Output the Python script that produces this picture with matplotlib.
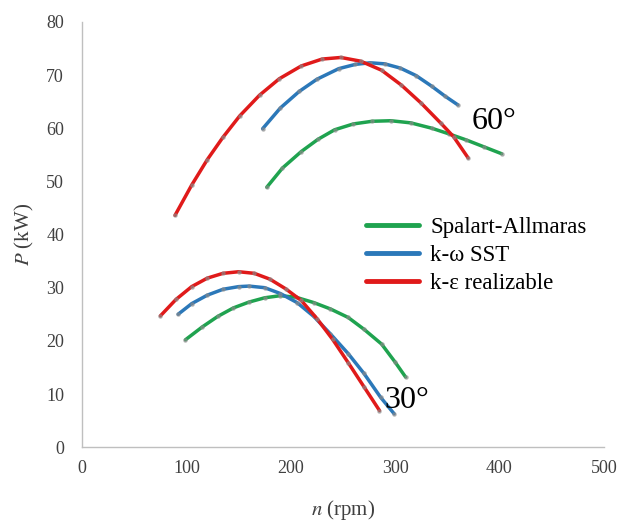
import matplotlib
matplotlib.use('Agg')
import matplotlib.pyplot as plt

plt.rcParams['font.family'] = ['Liberation Serif', 'DejaVu Serif']

# 60 degree curves
n60_sa = [177, 192, 210, 226, 242, 260, 278, 296, 315, 335, 352, 368, 385, 402]
p60_sa = [48.9, 52.5, 55.6, 57.9, 59.7, 60.8, 61.3, 61.4, 61.0, 60.0, 58.9, 57.8, 56.5, 55.2]
n60_sst = [173, 190, 208, 225, 246, 262, 276, 290, 305, 320, 335, 348, 360]
p60_sst = [59.9, 63.8, 66.9, 69.2, 71.2, 72.0, 72.3, 72.1, 71.3, 69.9, 67.9, 66.0, 64.4]
n60_ke = [89, 105, 120, 135, 151, 170, 189, 210, 230, 248, 267, 287, 306, 325, 344, 356, 370]
p60_ke = [43.6, 49.3, 54.1, 58.3, 62.3, 66.2, 69.3, 71.7, 73.0, 73.3, 72.6, 70.9, 68.1, 64.7, 60.9, 58.4, 54.4]

# 30 degree curves
n30_sa = [99, 115, 130, 145, 160, 175, 190, 205, 222, 238, 255, 270, 287, 300, 310]
p30_sa = [20.2, 22.6, 24.6, 26.2, 27.3, 28.1, 28.5, 28.2, 27.2, 26.0, 24.4, 22.2, 19.4, 16.0, 13.2]
n30_sst = [92, 105, 120, 135, 150, 160, 175, 190, 206, 222, 238, 255, 270, 286, 299]
p30_sst = [25.0, 27.0, 28.6, 29.7, 30.2, 30.3, 30.0, 28.9, 27.2, 24.6, 21.3, 17.6, 13.9, 9.4, 6.3]
n30_ke = [75, 90, 105, 120, 135, 150, 165, 180, 195, 210, 225, 240, 255, 270, 285]
p30_ke = [24.7, 27.8, 30.2, 31.8, 32.7, 33.0, 32.7, 31.6, 29.8, 27.6, 24.2, 20.3, 15.9, 11.4, 6.9]

labels = ['Spalart-Allmaras', 'k-ω SST', 'k-ε realizable']
colors = ['#1fa34f', '#2b78b9', '#e01a1a']

fig = plt.figure(figsize=(6.27, 5.2), dpi=100)
ax = fig.add_axes([0.131, 0.140, 0.832, 0.818])

series60 = [(n60_sa, p60_sa), (n60_sst, p60_sst), (n60_ke, p60_ke)]
series30 = [(n30_sa, p30_sa), (n30_sst, p30_sst), (n30_ke, p30_ke)]

for (x, y), c in zip(series60, colors):
    ax.plot(x, y, color=c, lw=2.5, solid_capstyle='round', solid_joinstyle='round')
    ax.plot(x, y, ls='none', marker='o', ms=2.3, color='#8a8a8a', alpha=0.55)
for (x, y), c, lab in zip(series30, colors, labels):
    ax.plot(x, y, color=c, lw=2.5, solid_capstyle='round', solid_joinstyle='round', label=lab)
    ax.plot(x, y, ls='none', marker='o', ms=2.3, color='#8a8a8a', alpha=0.55)

ax.set_xlim(0, 500)
ax.set_ylim(0, 80)
ax.set_xticks(range(0, 501, 100))
ax.set_yticks(range(0, 81, 10))
ax.tick_params(length=0, labelsize=13, labelcolor='#404040')
ax.tick_params(axis='x', pad=9)
ax.tick_params(axis='y', pad=13)

for s in ['top', 'right']:
    ax.spines[s].set_visible(False)
for s in ['left', 'bottom']:
    ax.spines[s].set_color('#bfbfbf')
    ax.spines[s].set_linewidth(1.0)

ax.set_xlabel('$n$ (rpm)', fontsize=15, color='#404040', labelpad=15,
              math_fontfamily='stix')
ax.set_ylabel('$P$ (kW)', fontsize=15, color='#404040', labelpad=7,
              math_fontfamily='stix')

ax.text(373, 59.8, '60°', fontsize=23)
ax.text(290, 7.4, '30°', fontsize=23)

leg = ax.legend(loc='upper left', bbox_to_anchor=(0.544, 0.541), frameon=False,
                fontsize=16.5, handlelength=2.3, handletextpad=0.5,
                labelspacing=0.31, borderaxespad=0, borderpad=0)
for h in leg.get_lines():
    h.set_linewidth(3.5)

fig.savefig('out.png', dpi=100)
